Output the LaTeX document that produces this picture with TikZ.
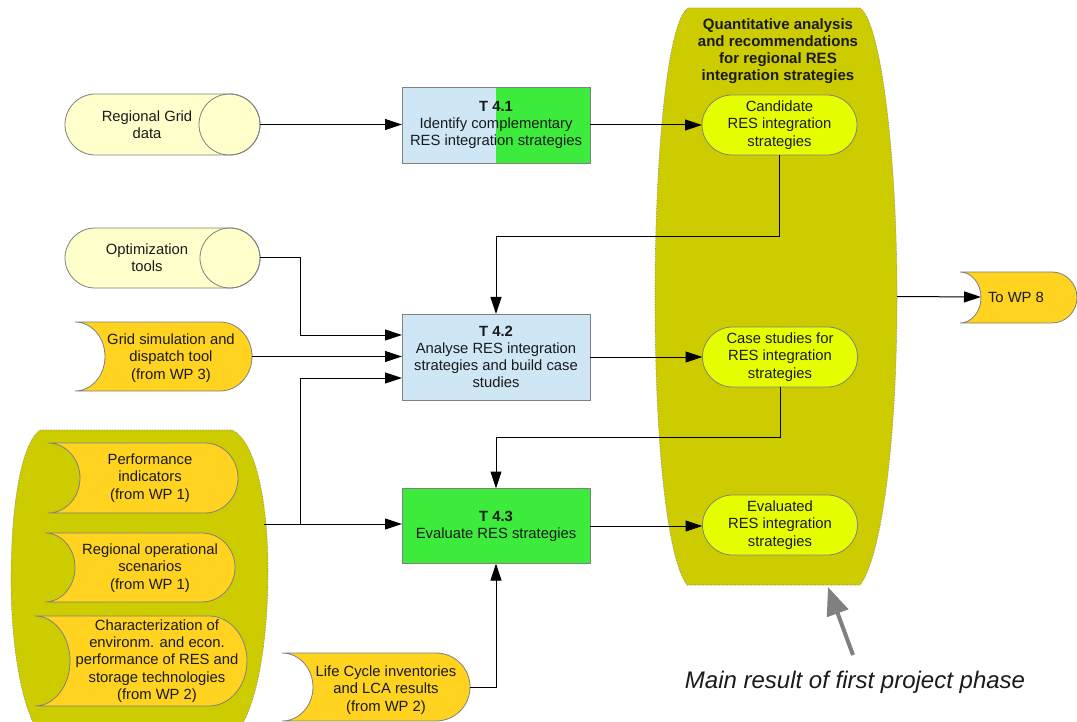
\documentclass[tikz,border=0pt]{standalone}
\usepackage{fontspec}
\setmainfont{Liberation Sans}
\usetikzlibrary{arrows.meta,calc,shapes.misc}
\definecolor{grpolive}{HTML}{CCCC00}
\definecolor{stadfill}{HTML}{E6FF00}
\definecolor{goldfill}{HTML}{FFD320}
\definecolor{paleyel}{HTML}{FFFFCC}
\definecolor{tblue}{HTML}{CFE7F5}
\definecolor{tgreen}{HTML}{3DEB3D}
\definecolor{edgegray}{HTML}{808080}
\definecolor{txt}{HTML}{1A1A1A}
\newcommand\cylshape[4]{%
  \pgfmathsetmacro\mycylrad{(#4-#2)/2}%
  \path[fill=paleyel, draw=edgegray, line width=0.8pt, rounded corners=\mycylrad pt] (#1,#2) rectangle (#3,#4);
  \draw[draw=edgegray, line width=0.8pt] ({#3-\mycylrad},{(#2+#4)/2}) circle[radius=\mycylrad];
}
\newcommand\sdshape[6]{%
  \pgfmathsetmacro\mysdhalf{(#4-#2)/2}%
  \path[fill=goldfill, draw=edgegray, line width=0.8pt] (#1,#2) -- ({#3-#6},#2)
    arc[start angle=-90, end angle=90, x radius=#6, y radius=\mysdhalf] -- (#1,#4)
    arc[start angle=90, end angle=-90, x radius=#5, y radius=\mysdhalf] -- cycle;
}
\tikzset{
  conn/.style={draw=black, line width=1pt, -{Triangle[length=17pt,width=11pt]}},
  grayarrow/.style={draw=edgegray, line width=4pt, -{Triangle[length=28pt,width=22pt]}},
  lbl/.style={font=\fontsize{14.8}{17.2}\selectfont, text=txt, align=center, inner sep=0pt},
  area/.style={inner sep=0pt, outer sep=0pt, draw=none},
  tbox/.style={draw=edgegray, line width=0.8pt, minimum width=188pt, inner sep=0pt, outer sep=0pt,
    align=center, font=\fontsize{14.8}{17.2}\selectfont, text=txt},
  stad/.style={rounded rectangle, draw=edgegray, line width=0.8pt, fill=stadfill, minimum width=155pt,
    minimum height=60pt, inner sep=0pt, outer sep=0pt, align=center, font=\fontsize{14.8}{17.2}\selectfont, text=txt},
  blob/.style={fill=grpolive, draw=edgegray, line width=0.6pt, densely dotted}
}
\begin{document}
\begin{tikzpicture}[x=1pt,y=-1pt]
\useasboundingbox (0,0) rectangle (1077,722);
\clip (0,0) rectangle (1077,722);
\fill[white] (0,0) rectangle (1077,722);

% big result shape
\path[blob] (688,8) -- (860,8) .. controls (880,20) and (897,150) .. (897,297)
  .. controls (897,450) and (880,560) .. (860,585) -- (687,585)
  .. controls (668,560) and (655,450) .. (655,297) .. controls (655,150) and (668,20) .. cycle;
\node[area, minimum width=242pt, minimum height=577pt] (res) at (776,296.5) {};
\node[lbl, font=\fontsize{15}{17}\selectfont\bfseries] (restitle) at (778,51)
  {Quantitative analysis\\and recommendations\\for regional RES\\integration strategies};

% left group shape
\path[blob] (40,430) -- (232,430) .. controls (255,440) and (268,500) .. (268,570)
  .. controls (268,640) and (258,700) .. (240,728) -- (36,728)
  .. controls (20,700) and (11,640) .. (11,580) .. controls (11,510) and (20,445) .. (40,430);
\node[area, minimum width=257pt, minimum height=298pt] (grp) at (139.5,579) {};

% data stores
\cylshape{65}{94}{260}{155}
\node[area, minimum width=195pt, minimum height=61pt] (rgd) at (162.5,124.5) {};
\node[lbl] (rgdtext) at (147,125) {Regional Grid\\data};

\cylshape{65}{228}{260}{288}
\node[area, minimum width=195pt, minimum height=60pt] (opt) at (162.5,258) {};
\node[lbl] (opttext) at (147,258) {Optimization\\tools};

% stored data inputs
\sdshape{75}{322}{252}{391}{30}{32}
\node[area, minimum width=177pt, minimum height=69pt] (gs) at (163.5,356.5) {};
\node[lbl] (gstext) at (171,358) {Grid simulation and\\dispatch tool\\(from WP 3)};

\sdshape{48}{443}{238}{513}{32}{33}
\node[area, minimum width=190pt, minimum height=70pt] (perf) at (143,478) {};
\node[lbl] (perftext) at (150,478) {Performance\\indicators\\(from WP 1)};

\sdshape{45}{533}{235}{602}{30}{33}
\node[area, minimum width=190pt, minimum height=69pt] (ops) at (140,567.5) {};
\node[lbl] (opstext) at (150,568) {Regional operational\\scenarios\\(from WP 1)};

\sdshape{35}{616}{247}{706}{35}{38}
\node[area, minimum width=212pt, minimum height=90pt] (charz) at (141,661) {};
\node[lbl] (charztext) at (157,661) {Characterization of\\environm. and econ.\\performance of RES and\\storage technologies\\(from WP 2)};

\sdshape{282}{653}{470}{721}{31}{34}
\node[area, minimum width=188pt, minimum height=68pt] (lca) at (376,687) {};
\node[lbl] (lcatext) at (386,690) {Life Cycle inventories\\and LCA results\\(from WP 2)};

\sdshape{960}{272}{1077}{323}{21}{25}
\node[area, minimum width=117pt, minimum height=51pt] (wp8) at (1018.5,297.5) {};
\node[lbl] (wp8text) at (1016,297.5) {To WP 8};
\coordinate (wp8in) at (981,297);

% tasks
\node[tbox, fill=tblue, minimum height=76pt,
  path picture={\fill[tgreen] (path picture bounding box.north) rectangle (path picture bounding box.south east);}]
  (t41) at (496,125) {\textbf{T 4.1}\\Identify complementary\\RES integration strategies};
\node[tbox, fill=tblue, minimum height=86pt] (t42) at (496,357)
  {\textbf{T 4.2}\\Analyse RES integration\\strategies and build case\\studies};
\node[tbox, fill=tgreen, minimum height=75pt] (t43) at (496,526)
  {\textbf{T 4.3}\\Evaluate RES strategies};

% results
\node[stad] (cand) at (779.5,125) {Candidate\\RES integration\\strategies};
\node[stad] (cs) at (780,357) {Case studies for\\RES integration\\strategies};
\node[stad] (ev) at (780,525) {Evaluated\\RES integration\\strategies};

% connectors
\draw[conn] (rgd.east) -- (rgd.east -| t41.west);
\draw[conn] (t41.east) -- (cand.west);
\draw[conn] (cand.south) -- ++(0,82) -| (t42.north);
\draw[conn] (opt.east) -- ++(40,0) |- ($(t42.west)+(0,-22)$);
\draw[conn] (gs.east) -- (gs.east -| t42.west);
\coordinate (grpout) at ($(grp.east |- t43.west)+(-4,-2)$);
\coordinate (split) at ($(grpout)+(36,0)$);
\draw[conn] (grpout) -- (grpout -| t43.west);
\draw[conn] (split) |- ($(t42.west)+(0,21)$);
\draw[conn] (t42.east) -- (cs.west);
\draw[conn] (cs.south) -- ++(0,50) -| (t43.north);
\draw[conn] (t43.east) -- (t43.east -| ev.west);
\draw[conn] (lca.east) -| (t43.south);
\draw[conn] (res.east) -- (wp8in);

% note
\node[font=\fontsize{24}{28}\selectfont\itshape, text=txt, anchor=base, inner sep=0pt] (note) at (855,688)
  {Main result of first project phase};
\coordinate (notetail) at (853,655);
\coordinate (notetip) at (828,587);
\draw[grayarrow] (notetail) -- (notetip);
\end{tikzpicture}
\end{document}
